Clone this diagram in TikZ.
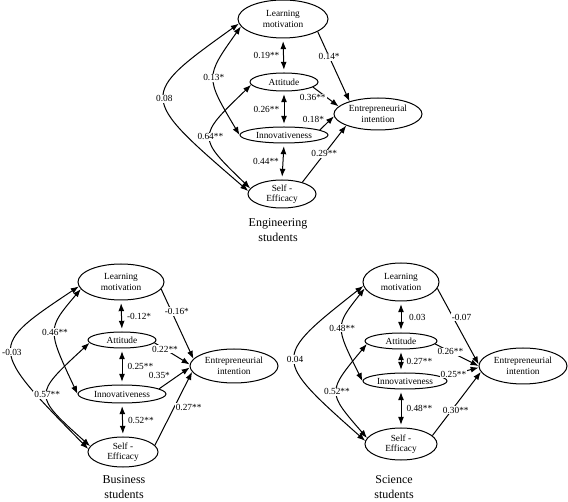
\documentclass[tikz,border=0pt]{standalone}
\usepackage{fontspec}
\setmainfont{Liberation Serif}
\usetikzlibrary{shapes.geometric}
\usetikzlibrary{arrows.meta}
\tikzset{every picture/.style={line width=0.75pt}}
\tikzset{
  latent/.style={draw, ellipse, inner sep=0pt, align=center, font=\fontsize{7}{7.8}\selectfont},
  coef/.style={fill=white, inner sep=0.75pt, font=\fontsize{7}{8}\selectfont},
  effect/.style={-{Latex[length=6pt,width=4.5pt]}},
  corr/.style={{Latex[length=6pt,width=4.5pt]}-{Latex[length=6pt,width=4.5pt]}},
  vcorr/.style={corr, shorten >=2pt, shorten <=2pt},
  grouplabel/.style={align=center, font=\fontsize{9}{11.25}\selectfont}
}

\begin{document}
\begin{tikzpicture}[x=0.75pt,y=0.75pt,yscale=-1,xscale=1]
\useasboundingbox (0,0) rectangle (568,502);

%%%%%%%% Engineering students
%Shape: Ellipse
\draw (283,19) node [latent, minimum width=67.5pt, minimum height=28.5pt] (engLM) {Learning\\motivation};
%Shape: Ellipse
\draw (284,82) node [latent, minimum width=51pt, minimum height=13.5pt] (engAtt) {Attitude};
%Shape: Ellipse
\draw (284,135) node [latent, minimum width=66pt, minimum height=12pt] (engInn) {Innovativeness};
%Shape: Ellipse
\draw (282,194) node [latent, minimum width=51pt, minimum height=21pt] (engSE) {Self -\\Efficacy};
%Shape: Ellipse
\draw (378,114) node [latent, minimum width=66pt, minimum height=24pt] (engEI) {Entrepreneurial\\intention};

%Curve Lines
\draw [corr] (engLM.186) .. controls (138,96) .. (engSE.175) node [coef, pos=0.5] {0.08};
\draw [corr] (engLM.190) .. controls (205,77) .. (engInn.180) node [coef, pos=0.5] {0.13*};
\draw [corr] (engAtt.185) .. controls (197,137) .. (engSE.170) node [coef, pos=0.5] {0.64**};
%Straight Lines
\draw [vcorr] (engLM.south) -- (engAtt.north) node [coef, pos=0.5, anchor=east, xshift=-2pt] {0.19**};
\draw [vcorr] (engAtt.south) -- (engInn.north) node [coef, pos=0.5, anchor=east, xshift=-2.5pt] {0.26**};
\draw [vcorr] (engInn.south) -- (engSE.north) node [coef, pos=0.5, anchor=east, xshift=-2pt] {0.44**};
\draw [effect] (engLM.-20) -- (engEI.156) node [coef, pos=0.36] {0.14*};
\draw [effect] (engAtt.-10) -- (engEI.169) node [coef, pos=0.55, anchor=east] {0.36**};
\draw [effect] (engInn.8) -- (engEI.183) node [coef, pos=0.4, anchor=south east] {0.18*};
\draw [effect] (engSE.30) -- (engEI.200) node [coef, pos=0.5] {0.29**};

% Text Node
\draw (278,230) node [grouplabel] (engTitle) {Engineering\\students};

%%%%%%%% Business students
%Shape: Ellipse
\draw (121,282) node [latent, minimum width=64.5pt, minimum height=27pt] (busLM) {Learning\\motivation};
%Shape: Ellipse
\draw (122,340) node [latent, minimum width=51pt, minimum height=12pt] (busAtt) {Attitude};
%Shape: Ellipse
\draw (122,394) node [latent, minimum width=66pt, minimum height=13.5pt] (busInn) {Innovativeness};
%Shape: Ellipse
\draw (123,452) node [latent, minimum width=52.5pt, minimum height=22.5pt] (busSE) {Self -\\Efficacy};
%Shape: Ellipse
\draw (234,366) node [latent, minimum width=66pt, minimum height=25.5pt] (busEI) {Entrepreneurial\\intention};

%Curve Lines
\draw [corr] (busLM.186) .. controls (-12,347) .. (busSE.175) node [coef, pos=0.5] {-0.03};
\draw [corr] (busLM.190) .. controls (47,329) .. (busInn.180) node [coef, pos=0.5] {0.46**};
\draw [corr] (busAtt.185) .. controls (33,395) .. (busSE.170) node [coef, pos=0.5] {0.57**};
%Straight Lines
\draw [vcorr] (busLM.south) -- (busAtt.north) node [coef, pos=0.5, anchor=west, xshift=3pt] {-0.12*};
\draw [vcorr] (busAtt.south) -- (busInn.north) node [coef, pos=0.5, anchor=west, xshift=3pt] {0.25**};
\draw [vcorr] (busInn.south) -- (busSE.north) node [coef, pos=0.5, anchor=west, xshift=3pt] {0.52**};
\draw [effect] (busLM.-10) -- (busEI.170) node [coef, pos=0.32, xshift=4pt] {-0.16*};
\draw [effect] (busAtt.-5) -- (busEI.178) node [coef, pos=0.3] {0.22**};
\draw [effect] (busInn.8) -- (busEI.182) node [coef, pos=0.4, anchor=south east] {0.35*};
\draw [effect] (busSE.12) -- (busEI.188) node [coef, pos=0.52, anchor=west] {0.27**};

% Text Node
\draw (124,487) node [grouplabel] (busTitle) {Business\\students};

%%%%%%%% Science students
%Shape: Ellipse
\draw (401,282) node [latent, minimum width=57pt, minimum height=28.5pt] (sciLM) {Learning\\motivation};
%Shape: Ellipse
\draw (401,341) node [latent, minimum width=54pt, minimum height=12pt] (sciAtt) {Attitude};
%Shape: Ellipse
\draw (405,381) node [latent, minimum width=63pt, minimum height=12pt] (sciInn) {Innovativeness};
%Shape: Ellipse
\draw (401,444) node [latent, minimum width=54pt, minimum height=24pt] (sciSE) {Self -\\Efficacy};
%Shape: Ellipse
\draw (523,366) node [latent, minimum width=66pt, minimum height=27pt] (sciEI) {Entrepreneurial\\intention};

%Curve Lines
\draw [corr] (sciLM.186) .. controls (272,358) .. (sciSE.175) node [coef, pos=0.5] {0.04};
\draw [corr] (sciLM.190) .. controls (335,326) .. (sciInn.180) node [coef, pos=0.5] {0.48**};
\draw [corr] (sciAtt.185) .. controls (327,392) .. (sciSE.170) node [coef, pos=0.5] {0.52**};
%Straight Lines
\draw [vcorr] (sciLM.south) -- (sciAtt.north) node [coef, pos=0.5, anchor=west, xshift=5pt] {0.03};
\draw [vcorr] (sciAtt.south) -- (sciAtt.south |- sciInn.north) node [coef, pos=0.5, anchor=west, xshift=3pt] {0.27**};
\draw [vcorr] (sciSE.north |- sciInn.south) -- (sciSE.north) node [coef, pos=0.5, anchor=west, xshift=3pt] {0.48**};
\draw [effect] (sciLM.-10) -- (sciEI.178) node [coef, pos=0.38, anchor=west, xshift=-2pt] {-0.07};
\draw [effect] (sciAtt.-5) -- (sciEI.180) node [coef, pos=0.35] {0.26**};
\draw [effect] (sciInn.6) -- (sciEI.182) node [coef, pos=0.3] {0.25**};
\draw [effect] (sciSE.15) -- (sciEI.188) node [coef, pos=0.4, xshift=3pt] {0.30**};

% Text Node
\draw (394,487) node [grouplabel] (sciTitle) {Science\\students};

\end{tikzpicture}
\end{document}
